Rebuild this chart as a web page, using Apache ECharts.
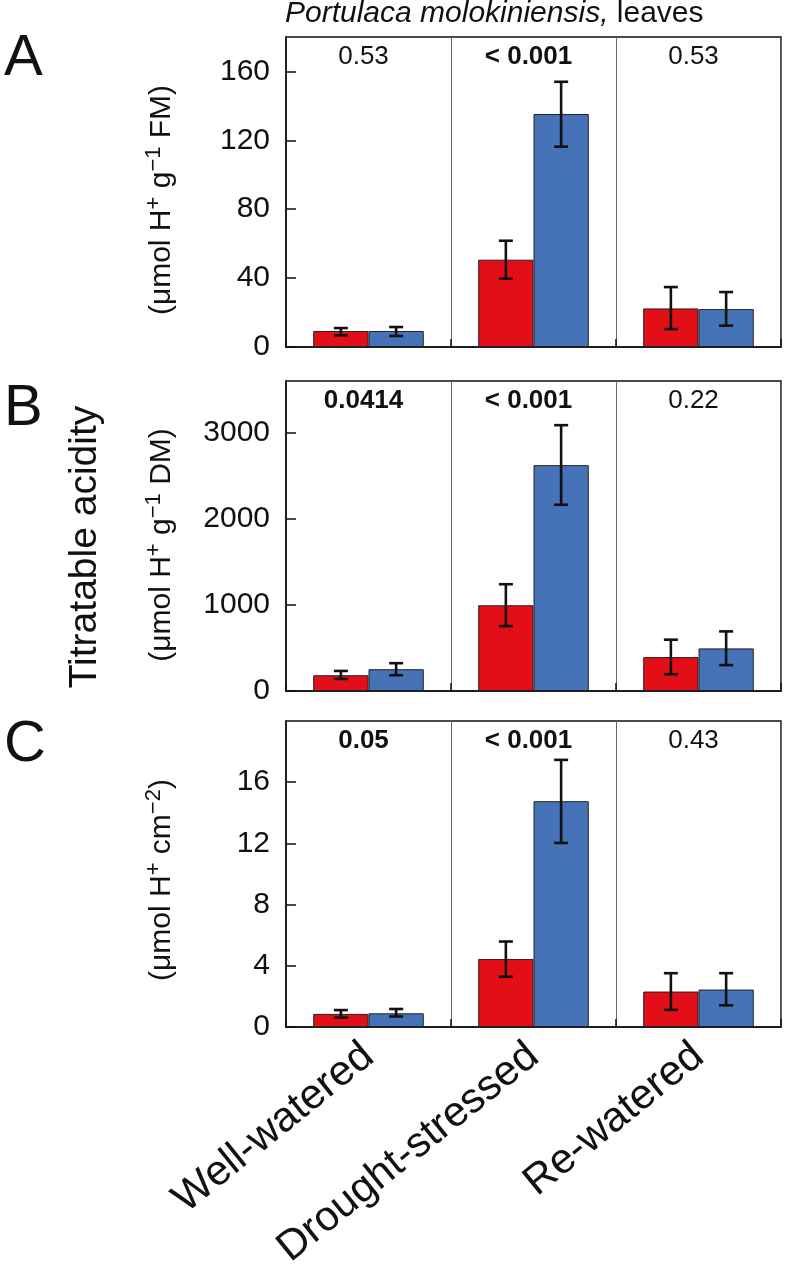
<!DOCTYPE html>
<html>
<head>
<meta charset="utf-8">
<script src="https://cdn.jsdelivr.net/npm/echarts@6/dist/echarts.min.js"></script>
<style>
  html, body { margin: 0; padding: 0; background: #fff; }
  #chart { width: 788px; height: 1272px; }
</style>
</head>
<body>
<div id="chart"></div>
<script>
  const categories = ['Well-watered', 'Drought-stressed', 'Re-watered'];

  // A: per g fresh mass
  const redA = [9.3, 50.7, 22.4];
  const redLoA = [6.8, 39.7, 10.4];
  const redHiA = [11.0, 61.7, 34.8];
  const blueA = [9.3, 135.3, 22.0];
  const blueLoA = [6.4, 116.3, 12.4];
  const blueHiA = [11.6, 154.0, 31.9];
  const pA = ['0.53', '< 0.001', '0.53'];
  const pBoldA = [false, true, false];
  const ticksA = [0, 40, 80, 120, 160];

  // B: per g dry mass
  const redB = [183, 996, 394];
  const redLoB = [140, 753, 194];
  const redHiB = [233, 1240, 596];
  const blueB = [253, 2623, 495];
  const blueLoB = [183, 2163, 301];
  const blueHiB = [323, 3087, 692];
  const pB = ['0.0414', '< 0.001', '0.22'];
  const pBoldB = [true, true, false];
  const ticksB = [0, 1000, 2000, 3000];

  // C: per leaf area
  const redC = [0.86, 4.45, 2.32];
  const redLoC = [0.62, 3.29, 1.12];
  const redHiC = [1.11, 5.59, 3.52];
  const blueC = [0.90, 14.76, 2.45];
  const blueLoC = [0.69, 12.03, 1.42];
  const blueHiC = [1.18, 17.46, 3.52];
  const pC = ['0.05', '< 0.001', '0.43'];
  const pBoldC = [true, true, false];
  const ticksC = [0, 4, 8, 12, 16];

  const FONT = '"Liberation Sans", Arial, Helvetica, sans-serif';
  const RED = '#e30f18';
  const BLUE = '#4673b8';
  const INK = '#111';
  const CAT_GAP = 0.33;

  const chart = echarts.init(document.getElementById('chart'));

  const panels = [
    { top: 37, height: 310, max: 180, ticks: ticksA, red: redA, redLo: redLoA, redHi: redHiA,
      blue: blueA, blueLo: blueLoA, blueHi: blueHiA, p: pA, pBold: pBoldA },
    { top: 381, height: 310, max: 3600, ticks: ticksB, red: redB, redLo: redLoB, redHi: redHiB,
      blue: blueB, blueLo: blueLoB, blueHi: blueHiB, p: pB, pBold: pBoldB },
    { top: 721, height: 309, max: 20, ticks: ticksC, red: redC, redLo: redLoC, redHi: redHiC,
      blue: blueC, blueLo: blueLoC, blueHi: blueHiC, p: pC, pBold: pBoldC },
  ];

  function errorBars(side) {
    return function (params, api) {
      const idx = api.value(0);
      const lo = api.coord([idx, api.value(1)]);
      const hi = api.coord([idx, api.value(2)]);
      const band = api.size([1, 0])[0];
      const bw = band * (1 - CAT_GAP) / 2;
      const x = lo[0] + side * bw / 2;
      const cap = 7;
      const st = { stroke: INK, lineWidth: 2.6 };
      return {
        type: 'group',
        children: [
          { type: 'line', shape: { x1: x, y1: lo[1], x2: x, y2: hi[1] }, style: st },
          { type: 'line', shape: { x1: x - cap, y1: hi[1], x2: x + cap, y2: hi[1] }, style: st },
          { type: 'line', shape: { x1: x - cap, y1: lo[1], x2: x + cap, y2: lo[1] }, style: st },
        ],
      };
    };
  }

  function pLabels(labels, bold) {
    return function (params, api) {
      const idx = api.value(0);
      const x = api.coord([idx, 0])[0] - 5;
      const y = params.coordSys.y + 20;
      return {
        type: 'text',
        x: x,
        y: y,
        style: {
          text: labels[idx],
          fontSize: 26,
          fontWeight: bold[idx] ? 'bold' : 'normal',
          fontFamily: FONT,
          fill: INK,
          align: 'center',
          verticalAlign: 'middle',
        },
      };
    };
  }

  const grid = [];
  const xAxis = [];
  const yAxis = [];
  const series = [];

  panels.forEach((p, i) => {
    const last = i === panels.length - 1;
    grid.push({
      left: 286, right: 7, top: p.top, height: p.height,
      show: true, borderColor: INK, borderWidth: 1.5, backgroundColor: 'transparent',
    });
    xAxis.push({
      type: 'category',
      gridIndex: i,
      data: categories,
      axisLine: { show: true, lineStyle: { color: INK, width: 1.5 } },
      axisTick: { show: true, inside: true, length: 8, lineStyle: { color: INK, width: 1.5 } },
      splitLine: { show: true, lineStyle: { color: '#666', width: 1 } },
      axisLabel: last
        ? { show: true, interval: 0, rotate: 39, margin: 24, fontSize: 42, fontFamily: FONT, color: INK }
        : { show: false },
    });
    yAxis.push({
      type: 'value',
      gridIndex: i,
      min: 0,
      max: p.max,
      axisLine: { show: true, lineStyle: { color: INK, width: 1.5 } },
      axisTick: { show: true, inside: true, length: 10, customValues: p.ticks, lineStyle: { color: INK, width: 1.5 } },
      axisLabel: {
        show: true, customValues: p.ticks, margin: 16, fontSize: 30, fontFamily: FONT, color: INK,
        formatter: (v) => String(v),
      },
      splitLine: { show: false },
    });
    series.push({
      type: 'bar', xAxisIndex: i, yAxisIndex: i, data: p.red,
      barGap: '0%', barCategoryGap: '33%',
      itemStyle: { color: RED, borderColor: '#222', borderWidth: 1 },
    });
    series.push({
      type: 'bar', xAxisIndex: i, yAxisIndex: i, data: p.blue,
      barGap: '0%', barCategoryGap: '33%',
      itemStyle: { color: BLUE, borderColor: '#222', borderWidth: 1 },
    });
    series.push({
      type: 'custom', xAxisIndex: i, yAxisIndex: i, z: 5,
      renderItem: errorBars(-1),
      data: categories.map((c, k) => [k, p.redLo[k], p.redHi[k]]),
    });
    series.push({
      type: 'custom', xAxisIndex: i, yAxisIndex: i, z: 5,
      renderItem: errorBars(1),
      data: categories.map((c, k) => [k, p.blueLo[k], p.blueHi[k]]),
    });
    series.push({
      type: 'custom', xAxisIndex: i, yAxisIndex: i, z: 5,
      renderItem: pLabels(p.p, p.pBold),
      data: categories.map((c, k) => [k]),
    });
  });

  const unitRich = {
    sup: { fontSize: 22, fontFamily: FONT, fill: INK, lineHeight: 20, verticalAlign: 'top' },
  };
  function unitLabel(text, y) {
    return {
      type: 'text',
      x: 162,
      y: y,
      rotation: Math.PI / 2,
      style: {
        text: text,
        rich: unitRich,
        fontSize: 30,
        lineHeight: 38,
        fontFamily: FONT,
        fill: INK,
        align: 'center',
        verticalAlign: 'middle',
      },
    };
  }
  function letter(text, y) {
    return {
      type: 'text', x: 4, y: y,
      style: { text: text, fontSize: 58, fontFamily: FONT, fill: INK },
    };
  }

  const option = {
    animation: false,
    backgroundColor: '#fff',
    grid: grid,
    xAxis: xAxis,
    yAxis: yAxis,
    series: series,
    graphic: [
      {
        type: 'text', x: 285, y: -1,
        style: {
          text: '{i|Portulaca molokiniensis,} leaves',
          rich: { i: { fontStyle: 'italic', fontSize: 30, fontFamily: FONT, fill: INK } },
          fontSize: 30, fontFamily: FONT, fill: INK,
        },
      },
      letter('A', 30),
      letter('B', 380),
      letter('C', 716),
      {
        type: 'text', x: 85, y: 547, rotation: Math.PI / 2,
        style: { text: 'Titratable acidity', fontSize: 39, fontFamily: FONT, fill: INK, align: 'center', verticalAlign: 'middle' },
      },
      unitLabel('(μmol H{sup|+} g{sup|−1} FM)', 200),
      unitLabel('(μmol H{sup|+} g{sup|−1} DM)', 545),
      unitLabel('(μmol H{sup|+} cm{sup|−2})', 880),
    ],
  };

  chart.setOption(option);
</script>
</body>
</html>
